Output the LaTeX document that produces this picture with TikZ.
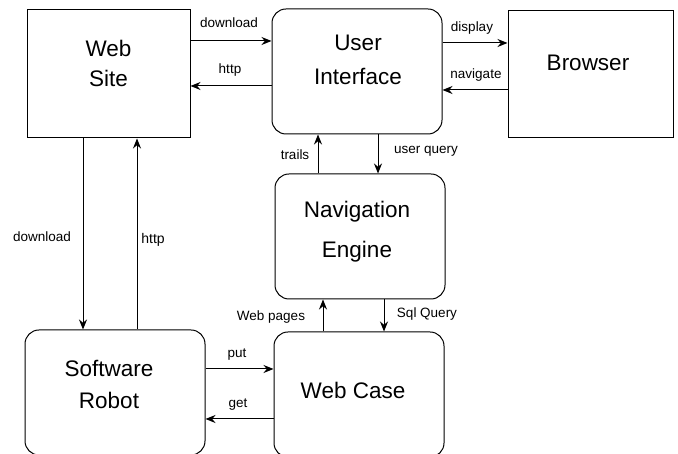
\documentclass[tikz,border=0pt]{standalone}
\usepackage{fontspec}
\setmainfont{Liberation Sans}
\usetikzlibrary{arrows.meta}
\tikzset{
	sharpbox/.style={draw,line width=1pt,inner sep=0pt},
	roundbox/.style={sharpbox,rounded corners=14pt},
	boxtext/.style={font=\fontsize{22.5}{32}\selectfont,align=center,inner sep=0pt},
	lbl/.style={font=\fontsize{13.5}{16}\selectfont,inner sep=0pt},
	flow/.style={line width=1pt,-{Stealth[length=10pt,width=8pt]}},
	backflow/.style={line width=1pt,{Stealth[length=10pt,width=8pt]}-},
}
\begin{document}
\begin{tikzpicture}[x=1pt,y=1pt]
	\useasboundingbox (0,0) rectangle (678,454);
	\clip (0,0) rectangle (678,454);
	% boxes
	\node[sharpbox,minimum width=163pt,minimum height=128pt] (site) at (108.5,380) {};
	\node[roundbox,minimum width=170pt,minimum height=125pt] (ui) at (357,382.5) {};
	\node[sharpbox,minimum width=165pt,minimum height=127pt] (browser) at (590.5,379.5) {};
	\node[roundbox,minimum width=170pt,minimum height=125pt] (nav) at (360,217.5) {};
	\node[roundbox,minimum width=170pt,minimum height=125pt] (cache) at (359,59.5) {};
	\node[roundbox,minimum width=180pt,minimum height=125pt] (robot) at (115,61.5) {};
	% box texts
	\node[boxtext] (site-txt) at (108.5,391) {Web\\[-2pt]Site};
	\node[boxtext] (ui-txt) at (358,394) {User\\[2pt]Interface};
	\node[boxtext] (browser-txt) at (588,391) {Browser};
	\node[boxtext] (nav-txt) at (357,222) {Navigation\\[8pt]Engine};
	\node[boxtext] (cache-txt) at (353,64) {Web Case};
	\node[boxtext] (robot-txt) at (109,70) {Software\\Robot};
	% site <-> ui
	\draw[flow] ([yshift=33pt]site.east) coordinate (dl1) -- (dl1 -| ui.west);
	\draw[backflow] ([yshift=-12pt]site.east) coordinate (ht1) -- (ht1 -| ui.west);
	\node[lbl] (dl1-lbl) at (229,431) {download};
	\node[lbl] (ht1-lbl) at (230,384) {http};
	% ui <-> browser
	\draw[flow] ([yshift=28.5pt]ui.east) coordinate (disp) -- (disp -| browser.west);
	\draw[backflow] ([yshift=-18.5pt]ui.east) coordinate (navg) -- (navg -| browser.west);
	\node[lbl] (disp-lbl) at (472,426) {display};
	\node[lbl] (navg-lbl) at (476,379) {navigate};
	% nav <-> ui
	\draw[flow] ([xshift=-42pt]nav.north) coordinate (trl) -- (trl |- ui.south);
	\draw[backflow] ([xshift=18pt]nav.north) coordinate (uq) -- (uq |- ui.south);
	\node[lbl] (trl-lbl) at (295,299) {trails};
	\node[lbl] (uq-lbl) at (426,303) {user query};
	% cache <-> nav
	\draw[flow] ([xshift=-36pt]cache.north) coordinate (wp) -- (wp |- nav.south);
	\draw[backflow] ([xshift=25pt]cache.north) coordinate (sq) -- (sq |- nav.south);
	\node[lbl] (wp-lbl) at (271,137) {Web pages};
	\node[lbl] (sq-lbl) at (427,140) {Sql Query};
	% site <-> robot
	\draw[flow] ([xshift=-25.5pt]site.south) coordinate (dl2) -- (dl2 |- robot.north);
	\draw[backflow] ([xshift=28.5pt]site.south) coordinate (ht2) -- (ht2 |- robot.north);
	\node[lbl] (dl2-lbl) at (42,217) {download};
	\node[lbl,font=\fontsize{14}{16}\selectfont] (ht2-lbl) at (153,214) {http};
	% robot <-> cache
	\draw[flow] ([yshift=23.5pt]robot.east) coordinate (pt) -- (pt -| cache.west);
	\draw[backflow] ([yshift=-26.5pt]robot.east) coordinate (gt) -- (gt -| cache.west);
	\node[lbl] (pt-lbl) at (237,99) {put};
	\node[lbl] (gt-lbl) at (238,49) {get};
\end{tikzpicture}
\end{document}
